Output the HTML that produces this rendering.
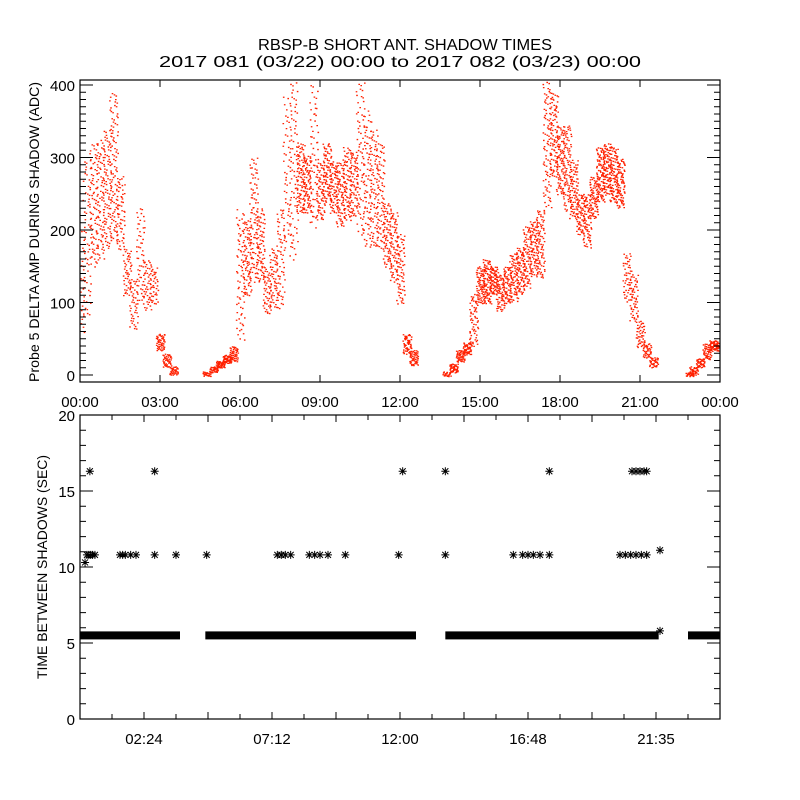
<!DOCTYPE html>
<html><head><meta charset="utf-8"><style>
html,body{margin:0;padding:0;background:#fff}
svg{display:block;font-family:"Liberation Sans",sans-serif}
</style></head><body>
<svg id="chart" width="800" height="800" viewBox="0 0 800 800" xmlns="http://www.w3.org/2000/svg">
<rect x="0" y="0" width="800" height="800" fill="#fff"/>
<text x="405" y="50" font-size="16" text-anchor="middle" textLength="294" lengthAdjust="spacingAndGlyphs">RBSP-B SHORT ANT. SHADOW TIMES</text>
<text x="400" y="67" font-size="16" text-anchor="middle" textLength="482" lengthAdjust="spacingAndGlyphs">2017 081 (03/22) 00:00 to 2017 082 (03/23) 00:00</text>
<g id="topPanel"></g>
<g id="botPanel"></g>
<text transform="translate(39,232) rotate(-90)" font-size="14" text-anchor="middle" textLength="300" lengthAdjust="spacingAndGlyphs">Probe 5 DELTA AMP DURING SHADOW (ADC)</text>
<text transform="translate(47,567) rotate(-90)" font-size="14" text-anchor="middle" textLength="224" lengthAdjust="spacingAndGlyphs">TIME BETWEEN SHADOWS (SEC)</text>
</svg>
<script>
// ---- top panel data (hour of day, cloud low, cloud high, dots per bin) ----
const ampHours = [0,0.25,0.5,0.75,1,1.25,1.5,1.75,2,2.25,2.5,2.75,3,3.25,3.5,
 4.75,5,5.25,5.5,5.75,6,6.25,6.5,6.75,7,7.25,7.5,7.75,8,8.25,8.5,8.75,9,9.25,9.5,9.75,10,10.25,10.5,10.75,11,11.25,11.5,11.75,12,12.25,12.5,
 13.75,14,14.25,14.5,14.75,15,15.25,15.5,15.75,16,16.25,16.5,16.75,17,17.25,17.5,17.75,18,18.25,18.5,18.75,19,19.25,19.5,19.75,20,20.25,20.5,20.75,21,21.25,21.5,
 22.85,23,23.25,23.5,23.75,24];
const ampLow = [50,80,150,160,175,185,175,110,65,100,90,100,35,12,2,
 0,5,12,18,20,50,110,130,130,85,95,90,175,160,225,225,205,215,240,225,205,215,220,195,180,175,175,150,130,100,30,15,
 0,5,20,30,40,100,100,113,90,100,103,113,122,140,135,228,275,250,228,218,195,177,218,240,250,240,232,103,75,40,25,12,
 0,2,12,23,35,35];
const ampHigh = [200,300,320,325,340,390,275,175,135,230,160,150,57,30,12,
 5,12,20,28,40,230,215,300,230,150,175,230,390,405,320,305,400,295,320,295,295,315,310,405,365,340,320,240,225,195,57,35,
 5,16,35,45,113,150,160,150,140,150,168,177,205,214,228,405,390,345,345,297,250,250,275,315,320,315,300,168,140,75,44,25,
 4,12,23,44,48,46];
const ampDots = [40,60,80,80,90,100,60,50,45,55,45,40,50,45,35,
 25,35,40,45,50,70,80,90,80,50,55,60,60,70,90,80,60,70,80,70,75,80,70,70,80,80,80,70,70,70,55,55,
 25,40,45,50,60,80,85,70,70,70,70,75,80,80,80,90,90,90,90,85,70,70,75,90,90,90,80,50,55,45,40,35,
 25,35,40,50,50,30];
const ampTicks = ["00:00","03:00","06:00","09:00","12:00","15:00","18:00","21:00","00:00"];
const ampYTicks = [0,100,200,300,400];

// ---- bottom panel data ----
const bandStart = [0.0, 4.7, 13.7, 22.8];
const bandEnd = [3.75, 12.6, 21.7, 24.0];
const bandValue = 5.5;
const outHours = [0.19,0.26,0.33,0.4,0.47,0.56,1.5,1.6,1.7,1.9,2.1,2.8,3.6,4.75,7.4,7.55,7.7,7.9,8.6,8.8,9.0,9.3,9.95,11.95,13.7,16.25,16.6,16.8,17.0,17.25,17.6,20.25,20.45,20.65,20.85,21.05,21.25,21.75,
 0.37,2.8,12.1,13.7,17.6,20.7,20.85,21.0,21.15,21.25,21.75];
const outValues = [10.3,10.8,10.8,10.8,10.8,10.8,10.8,10.8,10.8,10.8,10.8,10.8,10.8,10.8,10.8,10.8,10.8,10.8,10.8,10.8,10.8,10.8,10.8,10.8,10.8,10.8,10.8,10.8,10.8,10.8,10.8,10.8,10.8,10.8,10.8,10.8,10.8,11.1,
 16.3,16.3,16.3,16.3,16.3,16.3,16.3,16.3,16.3,16.3,5.8];
const timeLabels = ["02:24","07:12","12:00","16:48","21:35"];
const timeLabelHours = [2.4,7.2,12.0,16.8,21.6];
const secTicks = [0,5,10,15,20];

// ---- axes ----
const NS="http://www.w3.org/2000/svg";
const L=80,R=720;
const xs=h=>L+h*(R-L)/24;
const TT=80,TB=382;
const yt=v=>375-v*0.725;
const BT=415,BB=719;
const yb=v=>BB-v*(BB-BT)/20;
const topG=document.getElementById('topPanel'), botG=document.getElementById('botPanel');
function mk(tag,attrs,parent){const e=document.createElementNS(NS,tag);for(const k in attrs)e.setAttribute(k,attrs[k]);parent.appendChild(e);return e;}
function halton(i,b){let f=1,r=0;while(i>0){f/=b;r+=f*(i%b);i=Math.floor(i/b);}return r;}

// top scatter
const cloud=mk('g',{fill:'#ff2000'},topG);


let seq=7;
for(let i=0;i<ampHours.length;i++){
  const x0=xs(ampHours[i]-0.16), w=(R-L)/24*0.32;
  const ya=yt(ampHigh[i]), yb2=yt(ampLow[i]);
  let s='';
  for(let k=0;k<ampDots[i];k++){
    const px=x0+halton(seq,3)*w, py=ya+halton(seq,5)*(yb2-ya+1);
    seq+=1;
    if(px<L||px>R-1||py<TT||py>TB-1)continue;
    s+=`M${px.toFixed(1)} ${py.toFixed(1)}h1.6v1.3h-1.6z`;
  }
  const p=mk('path',{d:s},cloud);
  
  
}
// top frame and ticks
const tf=mk('rect',{x:L,y:TT,width:R-L,height:TB-TT,fill:'none',stroke:'#000','stroke-width':1.2},topG);


let td='';
for(let h=0;h<=24;h+=3){const x=xs(h);td+=`M${x} ${TB}v-7M${x} ${TT}v7`;}
for(let v=0;v<=400;v+=10){const y=yt(v);const len=v%100===0?13:6;td+=`M${L} ${y}h${len}M${R} ${y}h${-len}`;}
mk('path',{d:td,stroke:'#000','stroke-width':1,fill:'none'},topG);
ampTicks.forEach((t,i)=>{const e=mk('text',{x:xs(i*3),y:407,'font-size':15,'text-anchor':'middle'},topG);e.textContent=t;
 
 });
ampYTicks.forEach(v=>{const e=mk('text',{x:75,y:yt(v)+6,'font-size':15,'text-anchor':'end'},topG);e.textContent=v;
 
 });

// bottom band
for(let i=0;i<bandStart.length;i++){
  const r=mk('rect',{x:xs(bandStart[i]),y:yb(bandValue)-4,width:Math.min(xs(bandEnd[i]),R)-xs(bandStart[i]),height:8,fill:'#000'},botG);
  
  
}
// asterisks
function star(x,y){return `M${x-4} ${y}h8M${x} ${y-4}v8M${x-3} ${y-3}l6 6M${x-3} ${y+3}l6 -6`;}
let sd='';
for(let i=0;i<outHours.length;i++){sd+=star(xs(outHours[i]),yb(outValues[i]));}
const st=mk('path',{d:sd,stroke:'#000','stroke-width':1,fill:'none'},botG);


// bottom frame ticks
const bf=mk('rect',{x:L,y:BT,width:R-L,height:BB-BT,fill:'none',stroke:'#000','stroke-width':1.2},botG);


let bd='';
for(let k=0;k<=20;k++){const x=xs(k*1.2);const len=(k%2===0)?7:5;bd+=`M${x} ${BB}v${-len}M${x} ${BT}v${len}`;}
for(let v=0;v<=20;v++){const y=yb(v);const len=v%5===0?13:6;bd+=`M${L} ${y}h${len}M${R} ${y}h${-len}`;}
mk('path',{d:bd,stroke:'#000','stroke-width':1,fill:'none'},botG);
timeLabels.forEach((t,i)=>{const e=mk('text',{x:xs(timeLabelHours[i]),y:744,'font-size':15,'text-anchor':'middle'},botG);e.textContent=t;
 
 });
secTicks.forEach(v=>{const e=mk('text',{x:75,y:yb(v)+6,'font-size':15,'text-anchor':'end'},botG);e.textContent=v;
 
 });
</script>
</body></html>
